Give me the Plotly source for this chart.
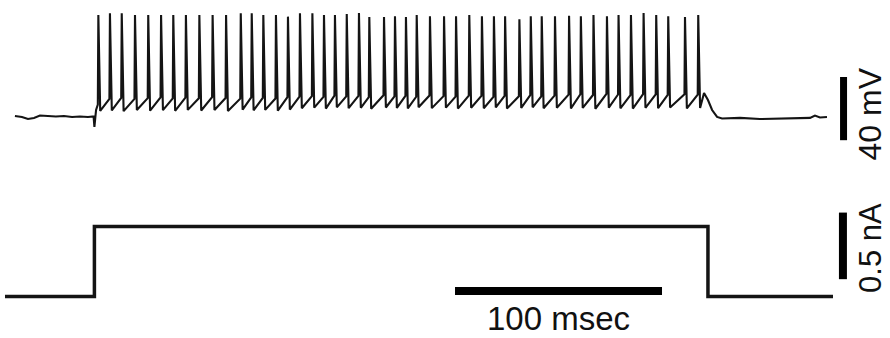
import plotly.graph_objects as go

# ---------------- data ----------------
# spike times (ms after current-step onset)
spike_times_ms = [2.1, 7.7, 13.4, 19.8, 26.2, 32.4, 38.3, 44.4, 50.9, 57.3, 63.8, 70.9,
                  76.2, 81.8, 87.9, 93.7, 99.5, 105.5, 111.1, 116.4, 122.1, 128.0, 133.0,
                  140.1, 145.4, 150.7, 155.9, 162.3, 169.1, 174.9, 181.3, 187.4, 193.2,
                  198.6, 205.5, 211.0, 216.3, 222.7, 229.5, 235.2, 241.3, 247.8, 253.4,
                  259.4, 265.5, 271.6, 277.4, 285.5, 291.9]
# spike peak potentials (mV)
spike_peak_mV = [-0.8, 0.3, 0.3, -0.8, -0.8, -0.8, -0.8, -0.8, -0.8, -0.8, -0.8, 0.3, 0.3,
                 -0.8, -0.8, -1.8, 0.3, 0.3, -0.8, -0.8, -0.1, 0.5, -2.0, -2.0, -1.5, -2.0,
                 -0.8, -1.5, -1.5, -1.5, -0.8, -1.5, -1.5, -1.5, -3.4, -1.5, -1.5, -1.5,
                 -1.2, -1.5, -0.8, -1.5, -0.8, -0.8, 0.5, -0.8, -1.5, -2.0, -0.8]
# threshold potential just before each spike (mV)
spike_thr_mV = [-57.5, -53.8, -53.2, -53.9, -53.4, -52.9, -53.6, -53.1, -53.5, -52.8, -53.3,
                -53.7, -52.9, -53.2, -53.6, -52.7, -52.4, -52.1, -52.6, -51.8, -52.3, -52.0,
                -52.7, -51.6, -52.2, -51.9, -52.5, -51.7, -52.1, -52.4, -51.8, -52.0, -52.6,
                -51.9, -52.2, -51.5, -52.3, -51.8, -51.2, -50.9, -51.4, -50.7, -51.1, -51.5,
                -50.8, -51.0, -51.3, -50.9, -51.2]
# after-hyperpolarisation trough following each spike (mV)
spike_trough_mV = [-61.5, -61.2, -61.6, -60.9, -61.3, -61.0, -61.4, -60.8, -61.2, -60.9, -61.5,
                   -60.7, -61.1, -60.8, -61.3, -60.6, -59.8, -59.4, -60.0, -59.2, -59.7, -59.5,
                   -60.1, -59.3, -59.6, -59.9, -59.2, -59.7, -59.4, -60.0, -59.5, -59.8, -59.3,
                   -59.9, -59.6, -59.2, -59.8, -59.5, -59.9, -59.6, -60.1, -59.4, -59.8, -60.0,
                   -59.5, -59.7, -59.3, -59.9, -59.6]
# resting trace before the step, including the onset transient
pre_t_ms = [-38.2, -34.8, -31.9, -29.0, -26.1, -22.2, -18.4, -14.5, -10.6, -6.8, -2.9, -0.2, 0.2, 1.0]
pre_v_mV = [-64.7, -65.3, -66.6, -65.9, -64.4, -64.7, -65.0, -64.7, -65.3, -65.0, -65.3, -65.0, -71.6, -60.9]
# trace after the last spike (offset of the step)
post_t_ms = [294.7, 296.6, 298.6, 301.0, 303.4, 312.1, 321.7, 331.4, 341.1, 345.9, 348.3, 350.7, 354.1]
post_v_mV = [-50.1, -54.6, -60.9, -65.3, -66.3, -65.9, -66.6, -66.3, -66.3, -65.9, -64.4, -65.6, -65.3]
# injected current step
current_t_ms = [-43.0, 0.2, 0.2, 296.6, 296.6, 357.0]
current_nA = [0.0, 0.0, 0.525, 0.525, 0.0, 0.0]

# scale bars
time_bar_ms = 100
volt_bar_mV = 40
curr_bar_nA = 0.5

# ---------------- build voltage polyline ----------------
vt, vv = list(pre_t_ms), list(pre_v_mV)
for ts, pk, th, tr in zip(spike_times_ms, spike_peak_mV, spike_thr_mV, spike_trough_mV):
    vt += [ts - 0.25, ts, ts + 0.9]
    vv += [th, pk, tr]
vt += post_t_ms
vv += post_v_mV

INK = "#141414"
fig = go.Figure()
fig.add_trace(go.Scatter(x=vt, y=vv, mode="lines", yaxis="y",
                         line=dict(color=INK, width=2.1), hoverinfo="skip"))
fig.add_trace(go.Scatter(x=current_t_ms, y=current_nA, mode="lines", yaxis="y2",
                         line=dict(color=INK, width=3.5, shape="linear"), hoverinfo="skip"))

# scale bars
tb0 = 174.4
fig.add_trace(go.Scatter(x=[tb0, tb0 + time_bar_ms], y=[0.041, 0.041], mode="lines", yaxis="y2",
                         line=dict(color="#000", width=8), hoverinfo="skip"))
fig.add_trace(go.Scatter(x=[362.1, 362.1], y=[-80, -80 + volt_bar_mV], mode="lines", yaxis="y",
                         line=dict(color="#000", width=7), hoverinfo="skip"))
fig.add_trace(go.Scatter(x=[361.8, 361.8], y=[0.13, 0.13 + curr_bar_nA], mode="lines", yaxis="y2",
                         line=dict(color="#000", width=8), hoverinfo="skip"))

FONT = "Liberation Sans, Arial, sans-serif"
fig.add_annotation(x=tb0 + time_bar_ms / 2 + 0.2, y=-0.309, xref="x", yref="y2",
                   yanchor="bottom", text=f"{time_bar_ms} msec", showarrow=False,
                   borderpad=0,
                   font=dict(family=FONT, size=33, color="#111"))
fig.add_annotation(x=375.1, y=-63.4, xref="x", yref="y",
                   text=f"{volt_bar_mV} mV", showarrow=False, textangle=-90,
                   font=dict(family=FONT, size=32, color="#111"))
fig.add_annotation(x=375.1, y=0.368, xref="x", yref="y2",
                   text=f"{curr_bar_nA} nA", showarrow=False, textangle=-90,
                   font=dict(family=FONT, size=31, color="#111"))

ax = dict(visible=False, showgrid=False, zeroline=False, fixedrange=True)
fig.update_layout(
    width=890, height=338,
    margin=dict(l=0, r=0, t=0, b=0),
    paper_bgcolor="white", plot_bgcolor="white",
    showlegend=False,
    xaxis=dict(range=[-45.41, 384.54], **ax),
    yaxis=dict(range=[-205.19, 8.73], domain=[0, 1], **ax),
    yaxis2=dict(range=[-0.3116, 2.226], overlaying="y", **ax),
)
fig.write_html("out.html")
